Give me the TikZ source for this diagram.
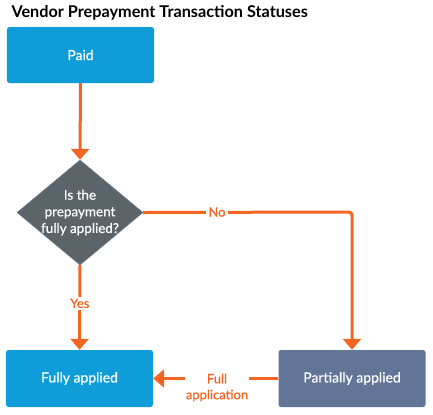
\documentclass[tikz,border=0pt]{standalone}
\usepackage{fontspec}
\setmainfont{Lato}
\newfontfamily\semib[FakeBold=0.6]{Lato}
\usetikzlibrary{shapes.geometric,arrows.meta}
\definecolor{boxblue}{HTML}{0E9DD8}
\definecolor{slate}{HTML}{627596}
\definecolor{darkgray}{HTML}{5A6469}
\definecolor{orng}{HTML}{F26522}
\tikzset{
  statebox/.style={fill=#1, rounded corners=2.5bp, minimum width=147bp, minimum height=57bp, text=white, font=\semib\fontsize{14}{16}\selectfont, inner sep=0pt},
  conn/.style={draw=orng, line width=3bp, -{Triangle[width=18bp,length=11bp]}},
  lbl/.style={fill=white, text=orng, font=\semib\fontsize{13}{16}\selectfont, inner sep=2bp, align=center},
}
\begin{document}
\begin{tikzpicture}[x=1bp,y=-1bp]
\useasboundingbox (0,0) rectangle (433,414);
\node[anchor=west, font=\bfseries\fontsize{16.3}{19}\selectfont] (title) at (8,13) {Vendor Prepayment Transaction Statuses};
\node[statebox=boxblue, minimum height=56bp] (paid) at (80.5,55) {Paid};
\node[diamond, fill=darkgray, draw=slate!70!darkgray, line width=0.4bp, minimum width=126bp, minimum height=105bp, inner sep=0pt] (dec) at (80,212.5) {};
\node[text=white, align=center, inner sep=0pt, font=\semib\fontsize{13.5}{16.7}\selectfont] (dectext) at (dec.center) {Is the\\prepayment\\fully applied?};
\node[statebox=boxblue] (full) at (79.5,378.5) {Fully applied};
\node[statebox=slate] (part) at (352,378.5) {Partially applied};
\draw[conn] (paid.south) -- (dec.north);
\draw[conn] (dec.south) -- node[lbl, pos=0.45] (yes) {Yes} (full.north);
\draw[conn, rounded corners=3bp] (dec.east) -- (352,212) -- (part.north);
\node[lbl] (no) at (217,212) {No};
\draw[conn] (part.west) -- (full.east);
\node[lbl, anchor=north, inner sep=1bp] (fa) at (217,372.5) {Full\\application};
\end{tikzpicture}
\end{document}
